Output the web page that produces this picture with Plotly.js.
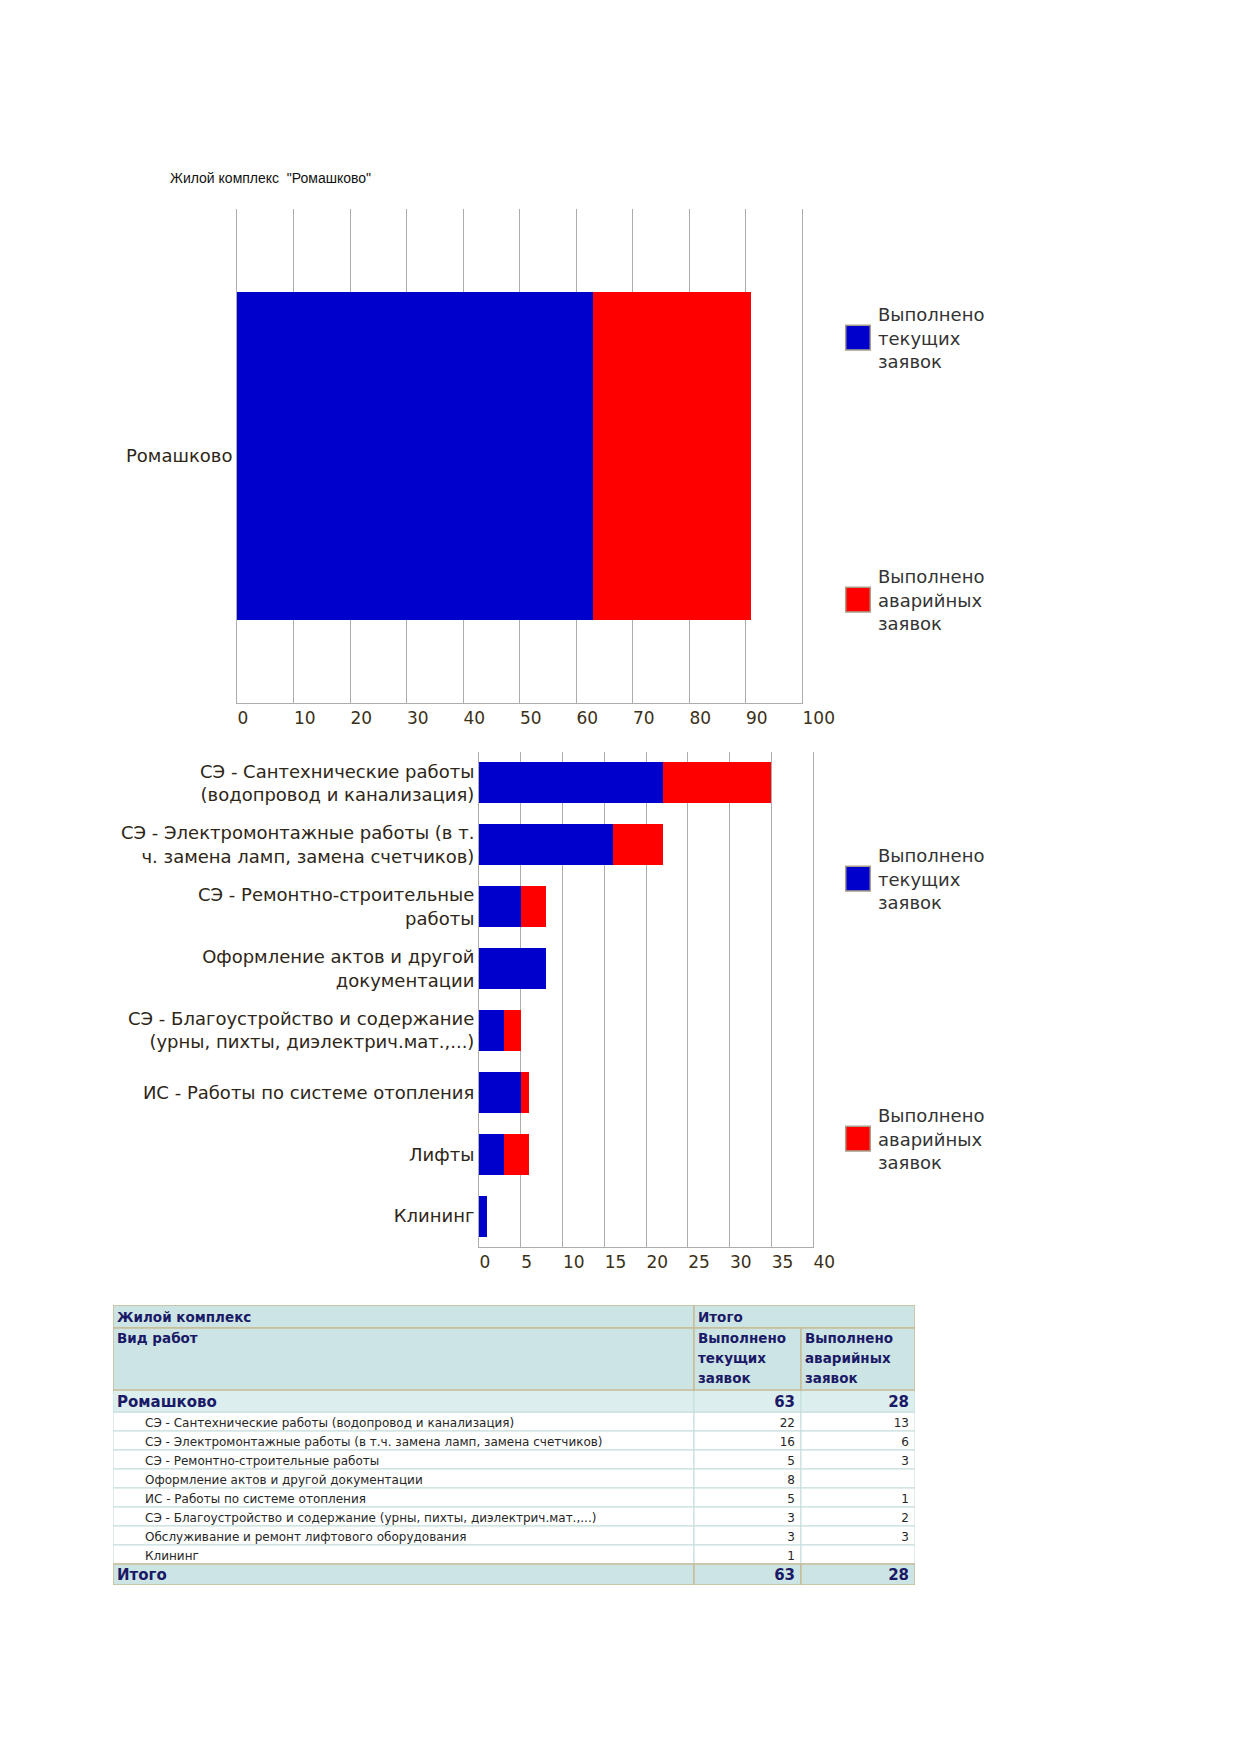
<!DOCTYPE html>
<html>
<head>
<meta charset="utf-8">
<script src="https://cdn.plot.ly/plotly-3.0.1.min.js"></script>
<style>
html, body { margin: 0; padding: 0; background: #ffffff; }
#chart { width: 1240px; height: 1754px; }
</style>
</head>
<body>
<div id="chart"></div>
<script>
// ---------------- DATA ----------------
const chartTitle = 'Жилой комплекс\u00a0 "Ромашково"';
const seriesNames = ['Выполнено<br>текущих<br>заявок', 'Выполнено<br>аварийных<br>заявок'];

const complexNames = ['Ромашково'];
const complexCurrent = [63];
const complexEmergency = [28];

const workCategories = [
  'СЭ - Сантехнические работы<br>(водопровод и канализация)',
  'СЭ - Электромонтажные работы (в т.<br>ч. замена ламп, замена счетчиков)',
  'СЭ - Ремонтно-строительные<br>работы',
  'Оформление актов и другой<br>документации',
  'СЭ - Благоустройство и содержание<br>(урны, пихты, диэлектрич.мат.,...)',
  'ИС - Работы по системе отопления',
  'Лифты',
  'Клининг'
];
const workCurrent = [22, 16, 5, 8, 3, 5, 3, 1];
const workEmergency = [13, 6, 3, 0, 2, 1, 3, 0];

const tableHeader1 = ['Жилой комплекс', 'Итого'];
const tableHeader2 = ['Вид работ', 'Выполнено текущих заявок', 'Выполнено аварийных заявок'];
const tableGroupName = 'Ромашково';
const tableGroupCurrent = 63;
const tableGroupEmergency = 28;
const tableWorkTypes = [
  'СЭ - Сантехнические работы (водопровод и канализация)',
  'СЭ - Электромонтажные работы (в т.ч. замена ламп, замена счетчиков)',
  'СЭ - Ремонтно-строительные работы',
  'Оформление актов и другой документации',
  'ИС - Работы по системе отопления',
  'СЭ - Благоустройство и содержание (урны, пихты, диэлектрич.мат.,...)',
  'Обслуживание и ремонт лифтового оборудования',
  'Клининг'
];
const tableCurrent = [22, 16, 5, 8, 5, 3, 3, 1];
const tableEmergency = [13, 6, 3, null, 1, 2, 3, null];
const tableTotalLabel = 'Итого';
const tableTotalCurrent = 63;
const tableTotalEmergency = 28;

// ---------------- LAYOUT HELPERS ----------------
const W = 1240, H = 1754;
const px = v => v / W;
const py = v => 1 - v / H;

const BLUE = '#0000cc', RED = '#ff0000';
const GRID = '#adadad';
const sansFamily = 'DejaVu Sans, Verdana, sans-serif';
const axisFont = {family: sansFamily, size: 17, color: '#3b3018'};
const catFont = {family: sansFamily, size: 18, color: '#2e2617'};
const legendFont = {family: sansFamily, size: 18, color: '#333333'};

// ---------------- TRACES: CHARTS ----------------
const traces = [
  {type: 'bar', orientation: 'h', y: complexNames, x: complexCurrent, name: seriesNames[0],
   marker: {color: BLUE, line: {width: 0}}, xaxis: 'x', yaxis: 'y', legend: 'legend', hoverinfo: 'skip'},
  {type: 'bar', orientation: 'h', y: complexNames, x: complexEmergency, name: seriesNames[1],
   marker: {color: RED, line: {width: 0}}, xaxis: 'x', yaxis: 'y', legend: 'legend2', hoverinfo: 'skip'},
  {type: 'bar', orientation: 'h', y: workCategories, x: workCurrent, name: seriesNames[0],
   marker: {color: BLUE, line: {width: 0}}, xaxis: 'x2', yaxis: 'y2', legend: 'legend3', hoverinfo: 'skip'},
  {type: 'bar', orientation: 'h', y: workCategories, x: workEmergency, name: seriesNames[1],
   marker: {color: RED, line: {width: 0}}, xaxis: 'x2', yaxis: 'y2', legend: 'legend4', hoverinfo: 'skip'}
];

// ---------------- TABLE (drawn on its own cartesian subplot) ----------------
const colEdges = [0, 581, 688, 802];
const rowHeights = [23, 62, 22, 19, 19, 19, 19, 19, 19, 19, 19, 21];
const rowTops = [];
{ let acc = 0; rowHeights.forEach(h => { rowTops.push(acc); acc += h; }); }
const tableTotalHeight = rowTops[rowTops.length - 1] + rowHeights[rowHeights.length - 1];
const TEXT_DY = 2;
const rowMid = i => rowTops[i] + rowHeights[i] / 2 + TEXT_DY;

const HEAD_FILL = '#cde4e5', GROUP_FILL = '#ddeeee', BODY_FILL = '#ffffff';
const KHAKI = '#c6bc98', LIGHT = '#c3dcdc';
const NAVY = '#1a1a66', BODY_TXT = '#262626';

const shapes = [];
function cellRect(r, c0, c1, fill, line, lw) {
  shapes.push({type: 'rect', xref: 'x3', yref: 'y3', layer: 'below',
    x0: colEdges[c0], x1: colEdges[c1], y0: rowTops[r], y1: rowTops[r] + rowHeights[r],
    fillcolor: fill, line: {color: line, width: lw}});
}
const nDataRows = tableWorkTypes.length;
for (let i = 0; i < nDataRows; i++) {
  for (let c = 0; c < 3; c++) cellRect(3 + i, c, c + 1, BODY_FILL, LIGHT, 1);
}
for (let c = 0; c < 3; c++) cellRect(2, c, c + 1, GROUP_FILL, LIGHT, 1);
cellRect(0, 0, 1, HEAD_FILL, KHAKI, 1.5);
cellRect(0, 1, 3, HEAD_FILL, KHAKI, 1.5);
for (let c = 0; c < 3; c++) cellRect(1, c, c + 1, HEAD_FILL, KHAKI, 1.5);
for (let c = 0; c < 3; c++) cellRect(2 + nDataRows + 1, c, c + 1, HEAD_FILL, KHAKI, 1.5);

// text items
const tx = [], ty = [], tt = [], tpos = [], tsize = [], tcolor = [];
function addText(x, y, text, pos, size, color) {
  tx.push(x); ty.push(y); tt.push(text); tpos.push(pos); tsize.push(size); tcolor.push(color);
}
const PADL = 4, PADR = 6, INDENT = 32;
// header row 1
addText(colEdges[0] + PADL, rowMid(0), '<b>' + tableHeader1[0] + '</b>', 'middle right', 13.5, NAVY);
addText(colEdges[1] + PADL, rowMid(0), '<b>' + tableHeader1[1] + '</b>', 'middle right', 13.5, NAVY);
// header row 2 (top-aligned, word per line)
tableHeader2.forEach((h, c) => {
  const words = c === 0 ? [h] : h.split(' ');
  words.forEach((w, k) => addText(colEdges[c] + PADL, rowTops[1] + 12 + 20 * k, '<b>' + w + '</b>', 'middle right', 13.5, NAVY));
});
// group row
addText(colEdges[0] + PADL, rowMid(2), '<b>' + tableGroupName + '</b>', 'middle right', 15, NAVY);
addText(colEdges[2] - PADR, rowMid(2), '<b>' + tableGroupCurrent + '</b>', 'middle left', 15, NAVY);
addText(colEdges[3] - PADR, rowMid(2), '<b>' + tableGroupEmergency + '</b>', 'middle left', 15, NAVY);
// data rows
tableWorkTypes.forEach((name, i) => {
  const r = 3 + i;
  addText(colEdges[0] + INDENT, rowMid(r), name, 'middle right', 12, BODY_TXT);
  if (tableCurrent[i] !== null) addText(colEdges[2] - PADR, rowMid(r), String(tableCurrent[i]), 'middle left', 12, BODY_TXT);
  if (tableEmergency[i] !== null) addText(colEdges[3] - PADR, rowMid(r), String(tableEmergency[i]), 'middle left', 12, BODY_TXT);
});
// total row
const rT = 3 + nDataRows;
addText(colEdges[0] + PADL, rowMid(rT), '<b>' + tableTotalLabel + '</b>', 'middle right', 15, NAVY);
addText(colEdges[2] - PADR, rowMid(rT), '<b>' + tableTotalCurrent + '</b>', 'middle left', 15, NAVY);
addText(colEdges[3] - PADR, rowMid(rT), '<b>' + tableTotalEmergency + '</b>', 'middle left', 15, NAVY);

traces.push({
  type: 'scatter', mode: 'text', x: tx, y: ty, text: tt, textposition: tpos,
  textfont: {family: sansFamily, size: tsize, color: tcolor},
  xaxis: 'x3', yaxis: 'y3', showlegend: false, hoverinfo: 'skip', cliponaxis: false
});

// ---------------- LAYOUT ----------------
function legendAt(yPix) {
  return {x: px(838), xanchor: 'left', y: py(yPix), yanchor: 'middle', font: legendFont,
          bgcolor: 'rgba(0,0,0,0)', borderwidth: 0, valign: 'middle'};
}
const valueAxis = (domain, range, dtick, anchor) => ({
  domain: domain, range: range, dtick: dtick, tick0: 0, showgrid: true, gridcolor: GRID, gridwidth: 1,
  zeroline: false, showline: true, linecolor: GRID, linewidth: 1, ticks: '',
  ticklabelposition: 'outside right', tickfont: axisFont, anchor: anchor, fixedrange: true
});
const catAxis = (domain, anchor, reversed) => ({
  domain: domain, type: 'category', showgrid: false, zeroline: false, showline: true, mirror: true,
  linecolor: GRID, linewidth: 1, ticks: '', tickfont: catFont, anchor: anchor, fixedrange: true,
  autorange: reversed ? 'reversed' : true
});

const layout = {
  width: W, height: H, margin: {l: 0, r: 0, t: 0, b: 0},
  paper_bgcolor: '#ffffff', plot_bgcolor: '#ffffff',
  barmode: 'stack', bargap: 0.337, showlegend: true,
  title: {text: chartTitle, x: px(170), xanchor: 'left', xref: 'paper', y: py(178), yanchor: 'middle', yref: 'paper',
          font: {family: 'Liberation Sans, Arial, sans-serif', size: 14, color: '#111111'}},
  xaxis: valueAxis([px(237), px(802)], [0, 100], 10, 'y'),
  yaxis: catAxis([py(703), py(209)], 'x', false),
  xaxis2: valueAxis([px(479), px(813)], [0, 40], 5, 'y2'),
  yaxis2: catAxis([py(1247), py(752)], 'x2', true),
  xaxis3: {domain: [px(113), px(915)], range: [colEdges[0], colEdges[3]], visible: false, fixedrange: true, anchor: 'y3'},
  yaxis3: {domain: [py(1305 + tableTotalHeight), py(1305)], range: [tableTotalHeight, 0], visible: false, fixedrange: true, anchor: 'x3'},
  legend: legendAt(338),
  legend2: legendAt(600),
  legend3: legendAt(879),
  legend4: legendAt(1139),
  shapes: shapes
};

Plotly.newPlot('chart', traces, layout, {staticPlot: true, displayModeBar: false}).then(function (gd) {
  // enlarge legend swatches (all four legends) to match the reference's large square keys with a grey frame
  gd.querySelectorAll('.legendpoints path').forEach(function (p) {
    p.setAttribute('d', 'M12.3,12.3H-12.3V-12.3H12.3Z');
    p.style.stroke = '#a89e8a';
    p.style.strokeWidth = '1.5px';
  });
});
</script>
</body>
</html>
